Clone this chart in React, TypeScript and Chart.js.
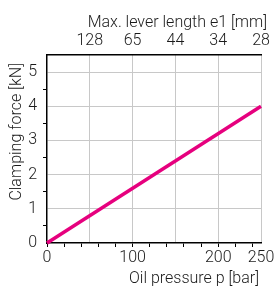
import React, { useEffect, useRef } from 'react';
import { Chart, registerables } from 'chart.js';
Chart.register(...registerables);

// Data
const oilPressureBar = [0, 250];
const clampingForceKN = [0, 4];

// Bottom axis (Oil pressure p [bar])
const bottomMinorTicks = [0, 20, 40, 60, 80, 100, 120, 140, 160, 180, 200, 220, 240];
const bottomGridValues = [50, 100, 150, 200, 250];
const bottomLabelValues = [0, 100, 200, 250];

// Top axis (Max. lever length e1 [mm])
const topTickValues = [50, 100, 150, 200, 250];
const topTickLabels = ['128', '65', '44', '34', '28'];

// Left axis (Clamping force [kN])
const yLabelValues = [0, 1, 2, 3, 4, 5];
const yMinorValues = [0.5, 1.5, 2.5, 3.5, 4.5];

const FAMILY = 'Roboto, "Liberation Sans", Arial, sans-serif';
const FONT = { family: FAMILY, size: 16, weight: 300 as any };
const TEXT = '#1a1a1a';
const GRID = '#c8c8c8';
const LINE = '#e6007e';

const titlesPlugin = {
  id: 'titles',
  afterDraw(chart: any) {
    const ctx = chart.ctx as CanvasRenderingContext2D;
    ctx.save();
    ctx.font = `300 16px ${FAMILY}`;
    ctx.fillStyle = TEXT;
    ctx.textAlign = 'right';
    ctx.textBaseline = 'middle';
    ctx.fillText('Max. lever length e1 [mm]', 267, 23);
    ctx.fillText('Oil pressure p [bar]', 259, 279);
    ctx.translate(17, 63);
    ctx.rotate(-Math.PI / 2);
    ctx.fillText('Clamping force [kN]', 0, 0);
    ctx.restore();
  },
};

export default function App() {
  const ref = useRef<HTMLCanvasElement | null>(null);
  useEffect(() => {
    if (!ref.current) return;
    const points = oilPressureBar.map((x, i) => ({ x, y: clampingForceKN[i] }));
    const chart = new Chart(ref.current, {
      type: 'line',
      data: {
        datasets: [
          {
            data: points,
            borderColor: LINE,
            backgroundColor: LINE,
            borderWidth: 3.5,
            pointRadius: 0,
            xAxisID: 'x',
            yAxisID: 'y',
            clip: false as any,
          },
        ],
      },
      options: {
        responsive: false,
        animation: false,
        layout: { padding: { top: 0, right: 16, bottom: 0, left: 0 } },
        plugins: { legend: { display: false }, tooltip: { enabled: false } },
        scales: {
          x: {
            type: 'linear',
            position: 'bottom',
            min: 0,
            max: 250,
            afterBuildTicks: (s: any) => {
              const vals = Array.from(new Set([...bottomMinorTicks, ...bottomGridValues])).sort((a, b) => a - b);
              s.ticks = vals.map((v) => ({ value: v }));
            },
            afterFit: (s: any) => {
              s.height = 46;
            },
            ticks: {
              autoSkip: false,
              maxRotation: 0,
              padding: 1,
              color: TEXT,
              font: FONT,
              callback: (v: any) => (bottomLabelValues.includes(Number(v)) ? String(v) : ''),
            },
            grid: {
              color: (c: any) => (bottomGridValues.includes(c.tick?.value) ? GRID : 'rgba(0,0,0,0)'),
              tickColor: (c: any) => (bottomMinorTicks.includes(c.tick?.value) ? '#000' : 'rgba(0,0,0,0)'),
              tickLength: 4,
              lineWidth: 1,
            },
            border: { color: '#000', width: 1.5 },
          },
          x2: {
            type: 'linear',
            position: 'top',
            min: 0,
            max: 250,
            afterBuildTicks: (s: any) => {
              s.ticks = topTickValues.map((v) => ({ value: v }));
            },
            afterFit: (s: any) => {
              s.height = 55;
            },
            ticks: {
              autoSkip: false,
              maxRotation: 0,
              padding: 4,
              color: TEXT,
              font: FONT,
              callback: (v: any) => {
                const i = topTickValues.indexOf(Number(v));
                return i >= 0 ? topTickLabels[i] : '';
              },
            },
            grid: { drawOnChartArea: false, drawTicks: false },
            border: { color: '#000', width: 1.5 },
          },
          y: {
            type: 'linear',
            position: 'left',
            min: 0,
            max: 5.5,
            afterBuildTicks: (s: any) => {
              const vals = [...yLabelValues, ...yMinorValues].sort((a, b) => a - b);
              s.ticks = vals.map((v) => ({ value: v }));
            },
            afterFit: (s: any) => {
              s.width = 47;
            },
            ticks: {
              autoSkip: false,
              padding: 6,
              color: TEXT,
              font: FONT,
              callback: (v: any) => (yLabelValues.includes(Number(v)) ? String(v) : ''),
            },
            grid: {
              color: (c: any) => (yLabelValues.includes(c.tick?.value) && c.tick?.value > 0 ? GRID : 'rgba(0,0,0,0)'),
              tickColor: (c: any) => (yMinorValues.includes(c.tick?.value) ? '#000' : 'rgba(0,0,0,0)'),
              tickLength: 4,
              lineWidth: 1,
            },
            border: { color: '#000', width: 1.5 },
          },
        },
      },
      plugins: [titlesPlugin],
    });
    return () => chart.destroy();
  }, []);
  return (
    <div style={{ position: 'fixed', left: 0, top: 0, width: 277, height: 289, background: '#fff' }}>
      <canvas ref={ref} width={277} height={289} style={{ display: 'block' }} />
    </div>
  );
}
